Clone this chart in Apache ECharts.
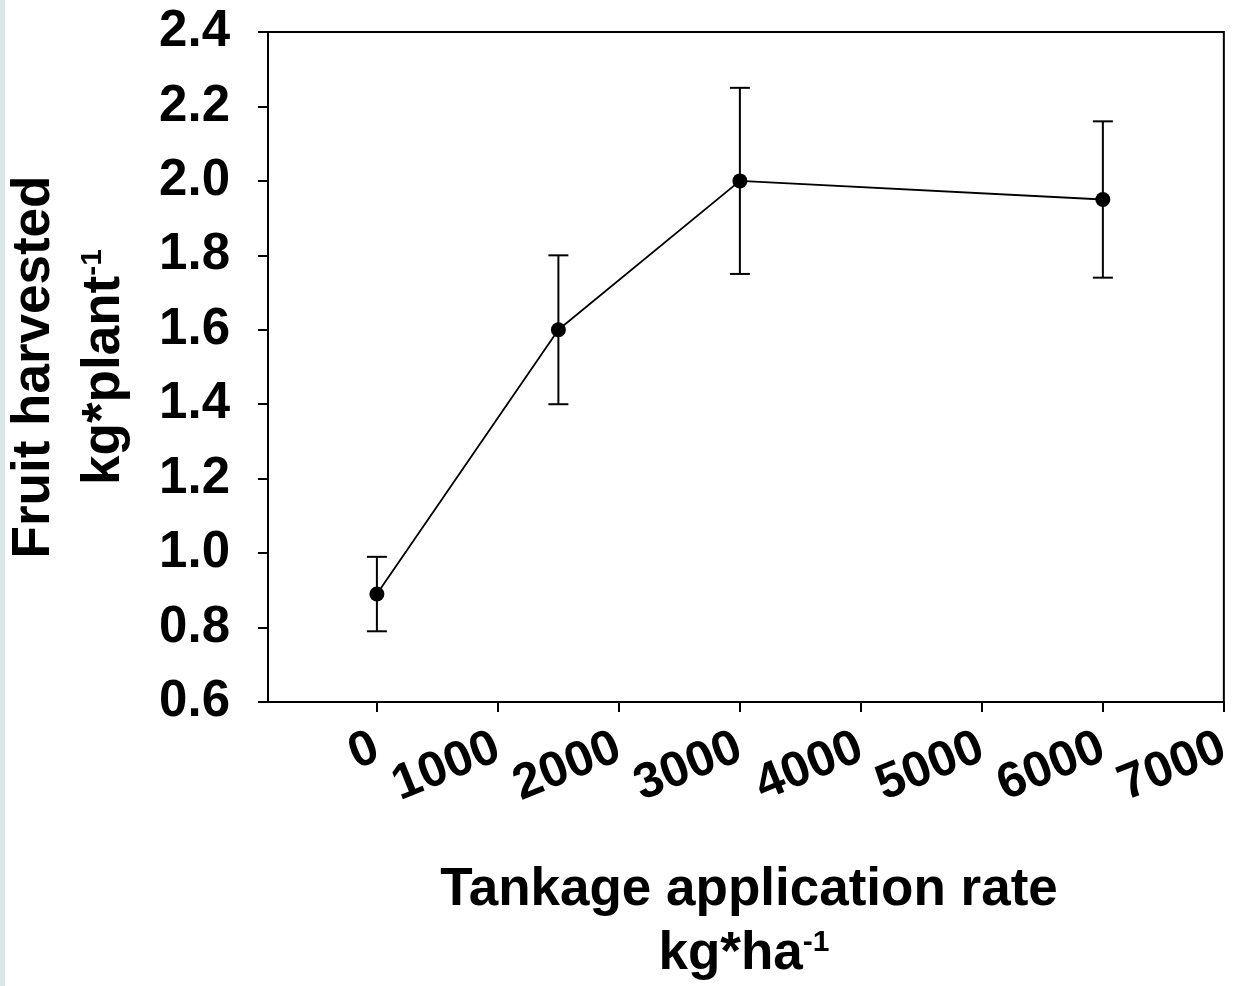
<!DOCTYPE html>
<html>
<head>
<meta charset="utf-8">
<script src="https://cdn.jsdelivr.net/npm/echarts@6/dist/echarts.min.js"></script>
<style>
  html, body { margin: 0; padding: 0; background: #ffffff; }
  #chart { width: 1236px; height: 986px; }
</style>
</head>
<body>
<div id="chart"></div>
<script>
// Tankage application rate (kg/ha) and fruit harvested (kg/plant), mean with error range
const rates = [0, 1500, 3000, 6000];
const fruitMean = [0.89, 1.60, 2.00, 1.95];
const fruitLow = [0.79, 1.40, 1.75, 1.74];
const fruitHigh = [0.99, 1.80, 2.25, 2.16];
const xTickValues = [0, 1000, 2000, 3000, 4000, 5000, 6000, 7000];

const FONT = '"Liberation Sans", Arial, Helvetica, sans-serif';

const chart = echarts.init(document.getElementById('chart'), null, { renderer: 'canvas' });

const meanData = rates.map((r, i) => [r, fruitMean[i]]);
const errData = rates.map((r, i) => [r, fruitLow[i], fruitHigh[i]]);

const option = {
  backgroundColor: '#ffffff',
  animation: false,
  grid: {
    left: 268, right: 10, top: 32, bottom: 284,
    show: true, borderColor: '#000', borderWidth: 2, backgroundColor: 'transparent'
  },
  xAxis: {
    type: 'value',
    min: -900, max: 7000,
    axisLine: { show: true, onZero: false, lineStyle: { color: '#000', width: 2 } },
    axisTick: { show: true, inside: false, length: 10, customValues: xTickValues, lineStyle: { color: '#000', width: 2 } },
    axisLabel: {
      customValues: xTickValues, rotate: 22, margin: 44,
      fontSize: 50, fontWeight: 'bold', color: '#000', fontFamily: FONT,
      formatter: v => String(v)
    },
    splitLine: { show: false }
  },
  yAxis: {
    type: 'value',
    min: 0.6, max: 2.4, interval: 0.2,
    axisLine: { show: true, onZero: false, lineStyle: { color: '#000', width: 2 } },
    axisTick: { show: true, inside: false, length: 10, lineStyle: { color: '#000', width: 2 } },
    axisLabel: {
      margin: 38, fontSize: 51, fontWeight: 'bold', color: '#000', fontFamily: FONT,
      formatter: v => v.toFixed(1)
    },
    splitLine: { show: false }
  },
  series: [
    {
      type: 'custom',
      z: 2,
      data: errData,
      encode: { x: 0, y: [1, 2] },
      renderItem: function (params, api) {
        const x = api.value(0);
        const pLo = api.coord([x, api.value(1)]);
        const pHi = api.coord([x, api.value(2)]);
        const cap = 10;
        const st = { stroke: '#000', lineWidth: 2 };
        return {
          type: 'group',
          children: [
            { type: 'line', shape: { x1: pLo[0], y1: pLo[1], x2: pHi[0], y2: pHi[1] }, style: st },
            { type: 'line', shape: { x1: pLo[0] - cap, y1: pLo[1], x2: pLo[0] + cap, y2: pLo[1] }, style: st },
            { type: 'line', shape: { x1: pHi[0] - cap, y1: pHi[1], x2: pHi[0] + cap, y2: pHi[1] }, style: st }
          ]
        };
      }
    },
    {
      type: 'line',
      z: 3,
      data: meanData,
      symbol: 'circle',
      symbolSize: 15,
      itemStyle: { color: '#000' },
      lineStyle: { color: '#000', width: 1.8 }
    }
  ],
  graphic: [
    { type: 'rect', left: 0, top: 0, z: -1, shape: { width: 5, height: 986 }, style: { fill: '#d7e9ea' } },
    {
      type: 'text', x: 34, y: 367, rotation: Math.PI / 2,
      style: { text: 'Fruit harvested', fontSize: 53, fontWeight: 'bold', fontFamily: FONT, fill: '#000', align: 'center', verticalAlign: 'middle' }
    },
    {
      type: 'text', x: 104, y: 367, rotation: Math.PI / 2,
      style: {
        text: 'kg*plant{sup|-1}', fontSize: 53, fontWeight: 'bold', fontFamily: FONT, fill: '#000', align: 'center', verticalAlign: 'middle',
        rich: { sup: { fontSize: 30, fontWeight: 'bold', fontFamily: FONT, fill: '#000', verticalAlign: 'top', padding: [0, 0, 20, 0] } }
      }
    },
    {
      type: 'text', x: 749, y: 890,
      style: { text: 'Tankage application rate', fontSize: 53, fontWeight: 'bold', fontFamily: FONT, fill: '#000', align: 'center', verticalAlign: 'middle' }
    },
    {
      type: 'text', x: 744, y: 954,
      style: {
        text: 'kg*ha{sup|-1}', fontSize: 53, fontWeight: 'bold', fontFamily: FONT, fill: '#000', align: 'center', verticalAlign: 'middle',
        rich: { sup: { fontSize: 30, fontWeight: 'bold', fontFamily: FONT, fill: '#000', verticalAlign: 'top', padding: [0, 0, 20, 0] } }
      }
    }
  ]
};

chart.setOption(option);
</script>
</body>
</html>
